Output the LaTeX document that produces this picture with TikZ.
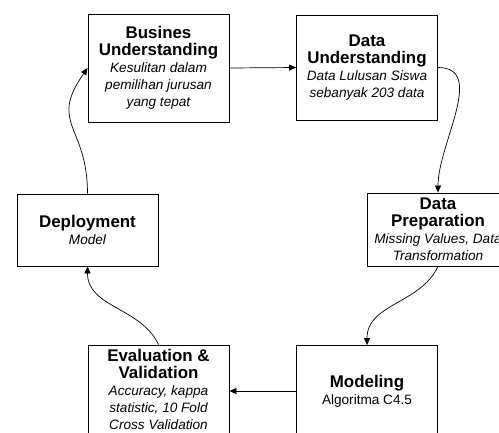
\documentclass[tikz,border=0pt]{standalone}
\usepackage{fontspec}
\setmainfont{Liberation Sans}
\usetikzlibrary{arrows.meta}

\newcommand{\phasetitle}[1]{{\fontsize{16.9}{19}\selectfont\bfseries\upshape #1}}

\begin{document}
\begin{tikzpicture}
                [x=1pt,y=-1pt,
                every node/.style={draw,line width=0.8pt,align=center,inner sep=0pt,
                        font=\fontsize{13.6}{17}\selectfont\itshape},
                phase/.style={minimum width=141pt},
                flow/.style={line width=0.7pt,-{Triangle[length=7pt,width=6pt]}}]
                \useasboundingbox (0,0) rectangle (499,432);
                \node[phase,minimum height=108pt] (bu) at (158.5,68)
                {\phasetitle{Busines}\\\phasetitle{Understanding}\\Kesulitan dalam\\pemilihan jurusan\\yang tepat};
                \node[phase,minimum height=105pt] (du) at (367,67.5)
                {\phasetitle{Data}\\\phasetitle{Understanding}\\Data Lulusan Siswa\\sebanyak 203 data};
                \node[phase,minimum height=73pt] (dp) at (438,229.5)
                {\phasetitle{Data}\\\phasetitle{Preparation}\\Missing Values, Data\\Transformation};
                \node[phase,minimum height=91pt] (mod) at (367,391)
                {\phasetitle{Modeling}\\\upshape Algoritma C4.5};
                \node[phase,minimum height=89pt] (ev) at (158.5,389.5)
                {\phasetitle{Evaluation \&}\\\phasetitle{Validation}\\Accuracy, kappa\\statistic, 10 Fold\\Cross Validation};
                \node[phase,minimum height=72pt] (dep) at (87.5,230)
                {\phasetitle{Deployment}\\Model};
                \draw[flow] (bu.east) -- (du.west);
                \draw[flow] (du.east) to[out=0,in=90] (dp.north);
                \draw[flow] (dp.south) to[out=-115,in=90] (mod.north);
                \draw[flow] (mod.west) -- (ev.east |- mod.west);
                \draw[flow] (ev.north) to[out=115,in=-90] (dep.south);
                \draw[flow] (dep.north) to[out=90,in=235,looseness=1.4] (bu.west);
            \end{tikzpicture}
\end{document}
